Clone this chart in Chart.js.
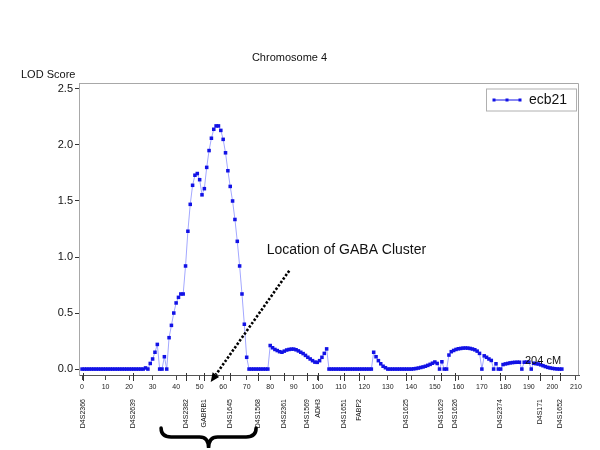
<!DOCTYPE html>
<html>
<head>
<meta charset="utf-8">
<script src="https://cdn.jsdelivr.net/npm/chart.js@4/dist/chart.umd.min.js"></script>
<style>
  body { margin: 0; background: #fff; }
</style>
</head>
<body>
<canvas id="chart" width="600" height="450"></canvas>
<script>
const FONT = '"Liberation Sans", Arial, sans-serif';

// LOD score at every cM, starting at 0 cM
const lodScores = [
  0, 0, 0, 0, 0, 0, 0, 0, 0, 0,                                     // 0
  0, 0, 0, 0, 0, 0, 0, 0, 0, 0,                                     // 10
  0, 0, 0, 0, 0, 0, 0, 0.01, 0, 0.05,                               // 20
  0.09, 0.15, 0.22, 0, 0, 0.11, 0, 0.28, 0.39, 0.50,                // 30
  0.59, 0.64, 0.67, 0.67, 0.92, 1.23, 1.47, 1.64, 1.73, 1.745,      // 40
  1.69, 1.555, 1.61, 1.80, 1.95, 2.06, 2.14, 2.17, 2.17, 2.13,      // 50
  2.05, 1.93, 1.77, 1.63, 1.50, 1.335, 1.14, 0.92, 0.67, 0.40,      // 60
  0.105, 0, 0, 0, 0, 0, 0, 0, 0, 0,                                 // 70
  0.21, 0.19, 0.175, 0.165, 0.155, 0.15, 0.16, 0.17, 0.175, 0.178,  // 80
  0.178, 0.172, 0.162, 0.15, 0.138, 0.122, 0.105, 0.09, 0.075, 0.062, // 90
  0.06, 0.075, 0.105, 0.14, 0.18, 0, 0, 0, 0, 0,                    // 100
  0, 0, 0, 0, 0, 0, 0, 0, 0, 0,                                     // 110
  0, 0, 0, 0, 0.15, 0.11, 0.075, 0.047, 0.025, 0.012,               // 120
  0, 0, 0, 0, 0, 0, 0, 0, 0, 0,                                     // 130
  0, 0.002, 0.005, 0.009, 0.014, 0.019, 0.025, 0.033, 0.042, 0.052, // 140
  0.063, 0.05, 0, 0.065, 0, 0, 0.125, 0.155, 0.166, 0.175,          // 150
  0.181, 0.184, 0.187, 0.188, 0.187, 0.184, 0.179, 0.172, 0.16, 0.14, // 160
  0, 0.118, 0.105, 0.09, 0.077, 0, 0.047, 0, 0, 0.04,               // 170
  0.046, 0.05, 0.055, 0.058, 0.06, 0.061, 0.061, 0, 0.061, 0.062,   // 180
  0.062, 0, 0.052, 0.048, 0.045, 0.038, 0.03, 0.022, 0.015, 0.01,   // 190
  0.006, 0.003, 0.001, 0, 0                                         // 200
];

const xTicks = [0, 10, 20, 30, 40, 50, 60, 70, 80, 90, 100, 110, 120, 130, 140, 150, 160, 170, 180, 190, 200, 210];
const yTicks = [0, 0.5, 1.0, 1.5, 2.0, 2.5];

// Genetic markers along the chromosome (cM)
const markerNames = ['D4S2366', 'D4S2639', 'D4S2382', 'GABRB1', 'D4S1645', 'D4S1568', 'D4S2361', 'D4S1569', 'ADH3',
  'D4S1651', 'FABP2', 'D4S1625', 'D4S1629', 'D4S1626', 'D4S2374', 'D4S171', 'D4S1652'];
const markerPositions = [0.5, 21.5, 44.2, 51.9, 63, 75, 85.9, 95.5, 100.2,
  111.5, 117.9, 137.8, 152.5, 158.6, 177.7, 194.7, 203.2];

const points = lodScores.map((v, cM) => ({ x: cM, y: v }));

const POINT_COLOR = '#1212e6';
const LINE_COLOR = '#a3a8ff';

Chart.defaults.font.family = FONT;
Chart.defaults.color = '#111';

const extras = {
  id: 'extras',
  afterDraw(chart) {
    const { ctx, chartArea: area, scales } = chart;
    const x = scales.x;
    const y = scales.y;
    ctx.save();

    // Top and right frame lines
    ctx.strokeStyle = '#a8a8a8';
    ctx.lineWidth = 1;
    ctx.beginPath();
    ctx.moveTo(area.left, area.top + 0.5);
    ctx.lineTo(area.right - 0.5, area.top + 0.5);
    ctx.lineTo(area.right - 0.5, area.bottom);
    ctx.stroke();

    // Axis title sits above the y axis
    ctx.fillStyle = '#111';
    ctx.font = `11px ${FONT}`;
    ctx.textAlign = 'left';
    ctx.textBaseline = 'middle';
    ctx.fillText('LOD Score', 21, area.top - 8);

    // Marker ticks and their vertical names
    ctx.strokeStyle = '#333';
    ctx.beginPath();
    for (const pos of markerPositions) {
      const px = Math.round(x.getPixelForValue(pos)) + 0.5;
      ctx.moveTo(px, area.bottom - 2);
      ctx.lineTo(px, area.bottom + 6);
    }
    ctx.stroke();
    ctx.font = `7px ${FONT}`;
    ctx.textAlign = 'right';
    ctx.textBaseline = 'middle';
    markerNames.forEach((name, i) => {
      ctx.save();
      ctx.translate(x.getPixelForValue(markerPositions[i]), area.bottom + 24);
      ctx.rotate(-Math.PI / 2);
      ctx.fillText(name, 0, 0);
      ctx.restore();
    });

    // End of the map
    ctx.font = `11px ${FONT}`;
    ctx.textAlign = 'center';
    ctx.fillText('204 cM', x.getPixelForValue(196), y.getPixelForValue(0.075));

    // GABA cluster note with dotted arrow
    ctx.font = `14px ${FONT}`;
    ctx.textAlign = 'left';
    ctx.fillText('Location of GABA Cluster', x.getPixelForValue(78.5), y.getPixelForValue(1.06));

    const x0 = x.getPixelForValue(88.1), y0 = y.getPixelForValue(0.878);
    const x1 = x.getPixelForValue(54.7), y1 = y.getPixelForValue(-0.115);
    const ang = Math.atan2(y1 - y0, x1 - x0);
    const head = 9;
    ctx.strokeStyle = '#000';
    ctx.lineWidth = 2.6;
    ctx.setLineDash([2.4, 1.8]);
    ctx.beginPath();
    ctx.moveTo(x0, y0);
    ctx.lineTo(x1 - head * Math.cos(ang), y1 - head * Math.sin(ang));
    ctx.stroke();
    ctx.setLineDash([]);
    ctx.fillStyle = '#000';
    ctx.beginPath();
    ctx.moveTo(x1, y1);
    ctx.lineTo(x1 - head * Math.cos(ang) + 4 * Math.sin(ang), y1 - head * Math.sin(ang) - 4 * Math.cos(ang));
    ctx.lineTo(x1 - head * Math.cos(ang) - 4 * Math.sin(ang), y1 - head * Math.sin(ang) + 4 * Math.cos(ang));
    ctx.closePath();
    ctx.fill();

    // Curly brace under the cluster markers
    const L = x.getPixelForValue(33.6), R = x.getPixelForValue(74);
    const M = (L + R) / 2;
    const yTop = area.bottom + 53, yMid = area.bottom + 62, yTip = area.bottom + 73;
    ctx.lineWidth = 3.5;
    ctx.lineCap = 'round';
    ctx.beginPath();
    ctx.moveTo(L, yTop);
    ctx.quadraticCurveTo(L, yMid, L + 10, yMid);
    ctx.lineTo(M - 9, yMid);
    ctx.quadraticCurveTo(M, yMid, M, yTip);
    ctx.quadraticCurveTo(M, yMid, M + 9, yMid);
    ctx.lineTo(R - 10, yMid);
    ctx.quadraticCurveTo(R, yMid, R, yTop);
    ctx.stroke();

    // Legend box in the top right corner
    const ds = chart.data.datasets[0];
    const bx = area.right - 93, by = area.top + 5.5, bw = 90, bh = 22;
    ctx.lineWidth = 1;
    ctx.lineCap = 'butt';
    ctx.strokeStyle = '#b0b0b0';
    ctx.strokeRect(bx + 0.5, by + 0.5, bw, bh);
    const ly = by + bh / 2 + 0.5;
    ctx.strokeStyle = POINT_COLOR;
    ctx.beginPath();
    ctx.moveTo(bx + 8, ly);
    ctx.lineTo(bx + 34, ly);
    ctx.stroke();
    ctx.fillStyle = POINT_COLOR;
    for (const dx of [8, 21, 34]) {
      ctx.fillRect(bx + dx - 1.5, ly - 1.5, 3, 3);
    }
    ctx.fillStyle = '#111';
    ctx.font = `14px ${FONT}`;
    ctx.textAlign = 'left';
    ctx.fillText(ds.label, bx + 43, ly);

    ctx.restore();
  }
};

new Chart(document.getElementById('chart'), {
  type: 'line',
  data: {
    datasets: [
      {
        label: 'ecb21',
        data: points,
        borderColor: LINE_COLOR,
        borderWidth: 1,
        pointStyle: 'rect',
        pointRadius: 2.5,
        pointBackgroundColor: POINT_COLOR,
        pointBorderWidth: 0,
        tension: 0,
      }
    ]
  },
  options: {
    responsive: false,
    animation: false,
    layout: { padding: { left: 0, right: 21, top: 0, bottom: 0 } },
    plugins: {
      legend: { display: false },
      tooltip: { enabled: false },
      title: {
        display: true,
        text: 'Chromosome 4',
        font: { size: 11, weight: 'normal' },
        color: '#111',
        padding: { top: 51, bottom: 18.8 },
      },
    },
    scales: {
      x: {
        type: 'linear',
        min: -1.3,
        max: 211.3,
        afterBuildTicks: (scale) => { scale.ticks = xTicks.map(v => ({ value: v })); },
        afterFit: (scale) => { scale.height = 75; },
        border: { color: '#555' },
        grid: { drawOnChartArea: false, drawTicks: true, tickLength: 5, color: '#444' },
        ticks: { font: { size: 7 }, color: '#222', padding: 3, maxRotation: 0, autoSkip: false },
      },
      y: {
        type: 'linear',
        min: -0.053,
        max: 2.553,
        afterBuildTicks: (scale) => { scale.ticks = yTicks.map(v => ({ value: v })); },
        afterFit: (scale) => { scale.width = 79; },
        border: { color: '#a8a8a8' },
        grid: { drawOnChartArea: false, drawTicks: true, tickLength: 4, color: '#333' },
        ticks: { font: { size: 11 }, color: '#111', padding: 2, callback: (v) => v.toFixed(1) },
      },
    },
  },
  plugins: [extras],
});
</script>
</body>
</html>
